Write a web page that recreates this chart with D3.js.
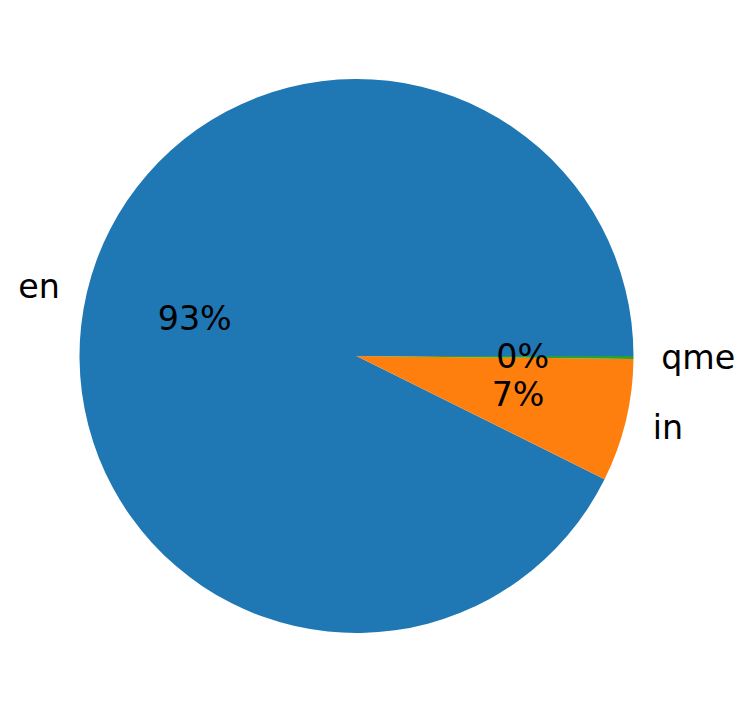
<!DOCTYPE html>
<html><head><meta charset="utf-8">
<script src="https://cdn.jsdelivr.net/npm/d3@7"></script>
<style>body{margin:0;background:#fff}</style>
</head><body>
<svg id="c" width="748" height="713"></svg>
<script>
const categories = ["en", "in", "qme"];
const values = [92.66, 7.17, 0.17];
const pctLabels = ["93%", "7%", "0%"];
const colors = ["#1f77b4", "#ff7f0e", "#2ca02c"];

const svg = d3.select("#c");
const cx = 356.5, cy = 356, r = 277;
const g = svg.append("g").attr("transform", `translate(${cx},${cy})`);

const pie = d3.pie().sort(null).value(d => d)
  .startAngle(Math.PI / 2).endAngle(Math.PI / 2 - 2 * Math.PI);
const arcs = pie(values);
const arc = d3.arc().innerRadius(0).outerRadius(r);

g.selectAll("path").data(arcs).enter().append("path")
  .attr("d", arc).attr("fill", (d, i) => colors[i]);

function pos(d, k) {
  const a = (d.startAngle + d.endAngle) / 2; // d3 angle (clockwise from top)
  return [k * r * Math.sin(a), -k * r * Math.cos(a)];
}
const font = "'DejaVu Sans', sans-serif";
arcs.forEach((d, i) => {
  const [lx, ly] = pos(d, 1.1);
  g.append("text").attr("x", lx).attr("y", ly)
    .attr("text-anchor", lx < 0 ? "end" : "start")
    .attr("dominant-baseline", "central")
    .style("font-family", font).style("font-size", "33.3px")
    .text(categories[i]);
  const [px, py] = pos(d, 0.6);
  g.append("text").attr("x", px).attr("y", py)
    .attr("text-anchor", "middle")
    .attr("dominant-baseline", "central")
    .style("font-family", font).style("font-size", "33.3px")
    .text(pctLabels[i]);
});
</script>
</body></html>
